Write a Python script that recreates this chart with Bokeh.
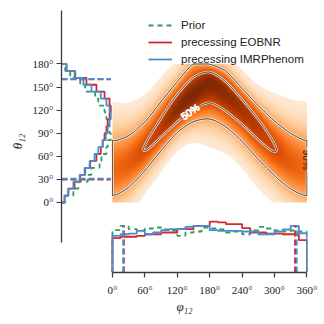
import numpy as np
import contourpy
from bokeh.plotting import figure
from bokeh.models import (Range1d, LinearAxis, FixedTicker, LinearColorMapper,
                          Legend, LegendItem)
from bokeh.palettes import Oranges256
from bokeh.embed import file_html
from bokeh.resources import INLINE
from bokeh.core.properties import value

# ---------------- data ----------------
# left marginal: theta_12, % of samples per 9-degree bin
theta_edges = list(range(0, 181, 9))
theta_prior = [0.6, 1.9, 2.7, 4.2, 4.8, 6.1, 6.4, 7.2, 7.4, 7.9, 7.7, 7.5, 7.2, 6.9, 5.9, 5.4, 3.8, 3.0, 1.4, 0.6]
theta_eob = [0.5, 1.1, 2.1, 3.0, 3.8, 4.6, 5.6, 6.3, 6.6, 6.9, 7.2, 7.4, 7.7, 7.9, 7.7, 6.9, 5.6, 4.0, 2.2, 0.8]
theta_imr = [0.5, 1.1, 1.9, 2.9, 3.7, 4.5, 5.3, 5.9, 6.6, 7.1, 7.4, 7.7, 7.9, 7.7, 7.2, 6.3, 4.8, 3.5, 2.1, 0.8]
theta_ci_eob = [30, 160]
theta_ci_imr = [31, 160.5]

# bottom marginal: phi_12, % of samples per 15-degree bin
phi_edges = list(range(0, 361, 15))
phi_prior = [4.20, 4.64, 4.30, 4.17, 4.37, 4.47, 4.27, 4.17, 3.64, 3.97, 4.07, 4.47,
             4.37, 4.27, 3.97, 4.07, 3.80, 4.17, 4.54, 4.37, 4.17, 4.07, 4.17, 4.07]
phi_eob = [3.41, 3.55, 3.55, 3.64, 3.80, 3.80, 3.97, 3.97, 4.30, 4.30, 4.64, 4.64,
           5.06, 4.97, 4.80, 4.80, 4.40, 3.97, 3.97, 3.87, 3.87, 3.80, 3.80, 3.21]
phi_imr = [3.64, 3.80, 3.87, 4.14, 3.80, 3.97, 4.20, 4.30, 4.30, 4.54, 4.64, 4.64,
           4.20, 4.14, 4.14, 4.14, 4.07, 4.07, 3.80, 3.80, 4.07, 4.27, 4.64, 3.90]
phi_ci_eob = [21, 338]
phi_ci_imr = [20, 341]

# joint density: ridge description at knots in phi_12
ridge_phi = [0, 30, 60, 90, 120, 150, 180, 210, 240, 270, 300, 330, 360]
ridge_theta = [40, 50, 70, 96.5, 121.9, 140.3, 160.4, 141.4, 121.5, 97.6, 70, 52, 40]
ridge_peak = [2.2, 2.5, 3.05, 3.55, 4.8, 5.0, 5.0, 4.6, 4.1, 3.6, 3.07, 2.5, 2.2]
ridge_width_below = [26.3, 23.0, 19.4, 18.2, 16.9, 19.1, 28.1, 24.3, 24.7, 26.3, 23.7, 25.8, 26.3]
ridge_width_above = [30.7, 26.3, 22.6, 21.7, 19.8, 23.9, 11.0, 17.5, 15.8, 17.4, 23.4, 27.3, 30.7]
level_90 = 1.0
level_50 = 3.0
halo_level = 0.03

theta_ticks = [0, 30, 60, 90, 120, 150, 180]
phi_ticks = [0, 60, 120, 180, 240, 300, 360]

legend_labels = ["Prior", "precessing EOBNR", "precessing IMRPhenom"]
c_prior, c_eob, c_imr = "#2e9d5b", "#cf2a2f", "#4a8dcc"

# ---------------- layout constants ----------------
W, H = 324, 324
BL, BR, BT, BB = 61, 17, 10, 52
x_lo, x_hi = -94.3, 361.0
y_lo, y_hi = -91.0, 249.5
fw, fh = W - BL - BR, H - BT - BB
sx = fw / (x_hi - x_lo)
sy = fh / (y_hi - y_lo)

# ---------------- joint density field ----------------
phi_g = np.linspace(0, 360, 361)
theta_g = np.linspace(0, 180, 361)


def smooth_periodic(arr, sigma=8):
    base = arr[:-1]
    ks = np.arange(-3 * sigma, 3 * sigma + 1)
    w = np.exp(-0.5 * (ks / sigma) ** 2)
    w /= w.sum()
    out = np.zeros_like(base)
    for k, wk in zip(ks, w):
        out += wk * np.roll(base, k)
    return np.append(out, out[0])


C = smooth_periodic(np.interp(phi_g, ridge_phi, ridge_theta))
A = smooth_periodic(np.interp(phi_g, ridge_phi, ridge_peak))
SL = smooth_periodic(np.interp(phi_g, ridge_phi, ridge_width_below))
SU = smooth_periodic(np.interp(phi_g, ridge_phi, ridge_width_above))

PH, TH = np.meshgrid(phi_g, theta_g)
S = np.where(TH < C[None, :], SL[None, :], SU[None, :])
F = A[None, :] * np.exp(-0.5 * ((TH - C[None, :]) / S) ** 2)

img = (F / F.max()) ** 0.62
img[F < halo_level] = np.nan

pal = list(Oranges256)
def _lum(h):
    return int(h[1:3], 16) + int(h[3:5], 16) + int(h[5:7], 16)
if _lum(pal[0]) < _lum(pal[-1]):
    pal = pal[::-1]
pal = pal[14:]
mapper = LinearColorMapper(palette=pal, low=0, high=1, nan_color=(0, 0, 0, 0))

# contours on a zero-padded grid so they close along the borders
phi_ext = np.concatenate([[-0.01], phi_g, [360.01]])
theta_ext = np.concatenate([[-0.01], theta_g, [180.01]])
F_ext = np.zeros((len(theta_ext), len(phi_ext)))
F_ext[1:-1, 1:-1] = F
gen = contourpy.contour_generator(phi_ext, theta_ext, F_ext)


def label_place(lines, tx, ty):
    best = None
    for li, ln in enumerate(lines):
        d = ((ln[:, 0] - tx) * sx) ** 2 + ((ln[:, 1] - ty) * sy) ** 2
        i = int(np.argmin(d))
        if best is None or d[i] < best[0]:
            best = (d[i], li, i)
    _, li, i = best
    ln = lines[li]
    a, b = ln[max(i - 4, 0)], ln[min(i + 4, len(ln) - 1)]
    ang = np.degrees(np.arctan2((b[1] - a[1]) * sy, (b[0] - a[0]) * sx))
    if ang <= -90 + 1e-3:
        ang += 180
    elif ang > 90 + 1e-3:
        ang -= 180
    return ln[i, 0], ln[i, 1], np.radians(ang)


def cut_gap(lines, cx, cy, r):
    xs, ys = [], []
    for ln in lines:
        keep = ((ln[:, 0] - cx) * sx) ** 2 + ((ln[:, 1] - cy) * sy) ** 2 > r * r
        start = None
        for j in range(len(ln) + 1):
            if j < len(ln) and keep[j]:
                if start is None:
                    start = j
            else:
                if start is not None and j - start > 1:
                    xs.append(list(ln[start:j, 0]))
                    ys.append(list(ln[start:j, 1]))
                start = None
    return xs, ys


lines90 = gen.lines(level_90)
lines50 = gen.lines(level_50)
l90 = label_place(lines90, 360, 55.5)
l50 = label_place(lines50, 144, 117.4)
xs90, ys90 = cut_gap(lines90, l90[0], l90[1], 12)
xs50, ys50 = cut_gap(lines50, l50[0], l50[1], 11)

# ---------------- figure ----------------
p = figure(width=W, height=H, x_range=Range1d(x_lo, x_hi), y_range=Range1d(y_lo, y_hi),
           x_axis_type=None, y_axis_type=None, output_backend="svg", toolbar_location=None,
           min_border_left=BL, min_border_right=BR, min_border_top=BT, min_border_bottom=BB)
p.outline_line_color = None
p.background_fill_color = "white"
p.border_fill_color = "white"
p.extra_x_ranges = {"hx": Range1d(0, fw / 6.24)}
p.extra_y_ranges = {"hy": Range1d(0, fh / 10.07)}

p.image(image=[img], x=0, y=0, dw=360, dh=180, color_mapper=mapper)

for xs, ys in ((xs90, ys90), (xs50, ys50)):
    p.multi_line(xs, ys, line_color="white", line_width=2.4, line_alpha=0.85)
    p.multi_line(xs, ys, line_color="#1b1b1b", line_width=1.0)

p.text(x=[l50[0]], y=[l50[1]], text=["50%"], angle=[l50[2]], text_align="center",
       text_baseline="middle", text_font=value("Liberation Sans"),
       text_font_size="10px", text_color="#1b1b1b", text_outline_color="white")
p.text(x=[l90[0]], y=[l90[1]], text=["90%"], angle=[l90[2]], text_align="center",
       text_baseline="middle", text_font=value("Liberation Sans"),
       text_font_size="10px", text_color="#1b1b1b")


def left_step(edges, vals):
    xs, ys = [0.0], [edges[0]]
    for i, v in enumerate(vals):
        xs += [v, v]
        ys += [edges[i], edges[i + 1]]
    xs.append(0.0)
    ys.append(edges[-1])
    return xs, ys


def bottom_step(edges, vals):
    xs, ys = [edges[0]], [0.0]
    for i, v in enumerate(vals):
        xs += [edges[i], edges[i + 1]]
        ys += [v, v]
    xs.append(edges[-1])
    ys.append(0.0)
    return xs, ys


styles = [(c_prior, "5 4"), (c_eob, "solid"), (c_imr, "solid")]
leg_r = []
for vals, (col, dash) in zip((theta_prior, theta_eob, theta_imr), styles):
    xs, ys = left_step(theta_edges, vals)
    r = p.line(xs, ys, x_range_name="hx", line_color=col, line_width=1.8, line_dash=dash)
    leg_r.append(r)
for vals, (col, dash) in zip((phi_prior, phi_eob, phi_imr), styles):
    xs, ys = bottom_step(phi_edges, vals)
    p.line(xs, ys, y_range_name="hy", line_color=col, line_width=1.8, line_dash=dash)

# credible bounds
len_left = max(theta_prior)
len_bottom = max(phi_prior)
for ci, col in ((theta_ci_eob, c_eob), (theta_ci_imr, c_imr)):
    p.segment(x0=[0, 0], y0=ci, x1=[len_left, len_left], y1=ci, x_range_name="hx",
              line_color=col, line_width=2.0, line_dash="6 3")
for ci, col in ((phi_ci_eob, c_eob), (phi_ci_imr, c_imr)):
    p.segment(x0=ci, y0=[0, 0], x1=ci, y1=[len_bottom, len_bottom], y_range_name="hy",
              line_color=col, line_width=2.0, line_dash="6 3")

# axes
ax_col = "#3a3a3a"
yax = LinearAxis(ticker=FixedTicker(ticks=theta_ticks), bounds=(-52, y_hi),
                 axis_label="θ₁₂",
                 major_label_overrides={t: f"{t}°" for t in theta_ticks})
xax = LinearAxis(ticker=FixedTicker(ticks=phi_ticks), bounds=(0, 360),
                 axis_label="φ₁₂",
                 major_label_overrides={t: f"{t}°" for t in phi_ticks})
for ax in (yax, xax):
    ax.axis_line_color = ax_col
    ax.axis_line_width = 1.3
    ax.major_tick_line_color = ax_col
    ax.major_tick_line_width = 1.2
    ax.major_tick_in = 0
    ax.major_tick_out = 5
    ax.minor_tick_line_color = None
    ax.major_label_text_font = "Liberation Serif"
    ax.major_label_text_font_size = "11px"
    ax.major_label_text_color = "#222222"
    ax.axis_label_text_font = "Liberation Serif"
    ax.axis_label_text_font_style = "italic"
    ax.axis_label_text_font_size = "13px"
    ax.axis_label_text_color = "#222222"
yax.major_label_standoff = 3
yax.axis_label_standoff = 5
xax.major_label_standoff = 6
xax.axis_label_standoff = 0
p.add_layout(yax, "left")
p.add_layout(xax, "below")

legend = Legend(items=[LegendItem(label=lab, renderers=[r]) for lab, r in zip(legend_labels, leg_r)],
                location=(87, 206), orientation="vertical",
                border_line_color=None, background_fill_alpha=0,
                padding=0, margin=0, spacing=3,
                glyph_width=24, glyph_height=14, label_height=14, label_standoff=9,
                label_text_font="Liberation Sans", label_text_font_size="11.5px",
                label_text_color="#222222")
p.add_layout(legend)

open("out.html", "w").write(file_html(p, INLINE))
